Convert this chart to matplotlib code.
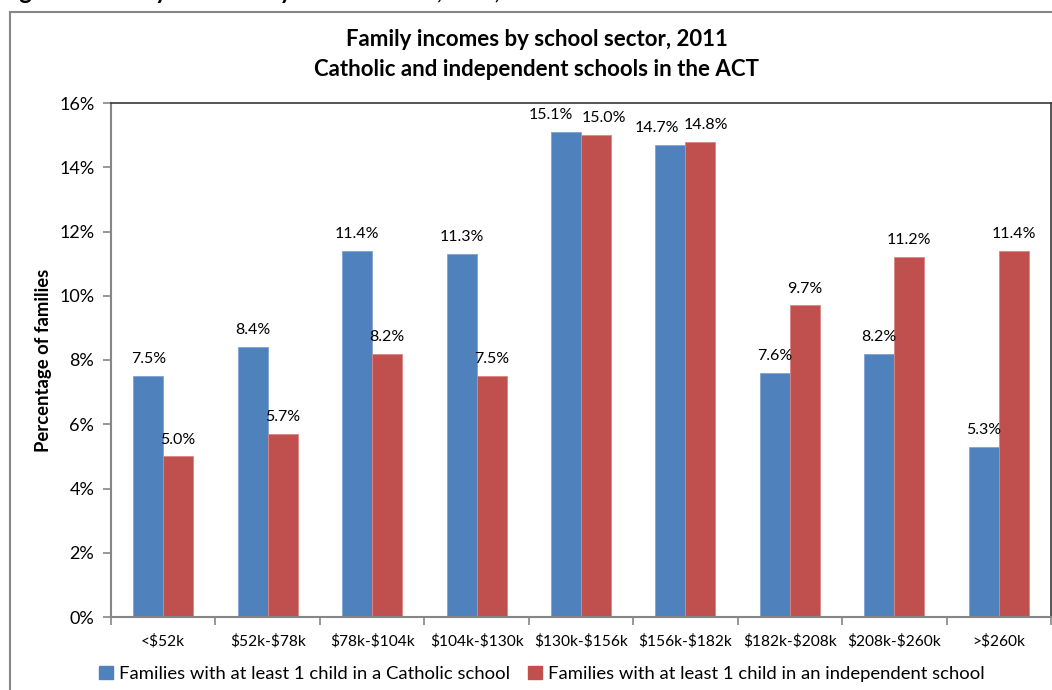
import numpy as np
import matplotlib

matplotlib.use('Agg')
import matplotlib.pyplot as plt
from matplotlib.lines import Line2D
from matplotlib.patches import Patch

plt.rcParams['font.family'] = ['Lato', 'DejaVu Sans']
plt.rcParams['text.parse_math'] = False

categories = ['<$52k', '$52k-$78k', '$78k-$104k', '$104k-$130k', '$130k-$156k',
              '$156k-$182k', '$182k-$208k', '$208k-$260k', '>$260k']
catholic = [7.5, 8.4, 11.4, 11.3, 15.1, 14.7, 7.6, 8.2, 5.3]
independent = [5.0, 5.7, 8.2, 7.5, 15.0, 14.8, 9.7, 11.2, 11.4]
series_names = ['Families with at least 1 child in a Catholic school',
                'Families with at least 1 child in an independent school']

blue = '#4F81BD'
red = '#C0504D'
grey = '#868686'

fig = plt.figure(figsize=(10.52, 6.90), dpi=100)
ax = fig.add_axes([111 / 1052, 73 / 690, 940 / 1052, 514 / 690])

x = np.arange(len(categories))
w = 0.287
ax.bar(x - w / 2, catholic, w, color=blue, edgecolor='#7FA3D0', linewidth=0.6)
ax.bar(x + w / 2, independent, w, color=red, edgecolor='#D88684', linewidth=0.6)

# small sideways nudges where Excel moved labels to avoid overlap
nudge1 = {4: -11, 5: -10}
nudge2 = {4: 6, 5: 4}
for i, v in enumerate(catholic):
    ax.annotate(f'{v:.1f}%', (x[i] - w / 2, v), xytext=(nudge1.get(i, 0), 7),
                textcoords='offset points', ha='center', va='bottom', fontsize=11.5)
for i, v in enumerate(independent):
    ax.annotate(f'{v:.1f}%', (x[i] + w / 2, v), xytext=(nudge2.get(i, 0), 7),
                textcoords='offset points', ha='center', va='bottom', fontsize=11.5)

ax.set_xlim(-0.5, len(categories) - 0.5)
ax.set_ylim(0, 16)
ax.set_yticks(np.arange(0, 17, 2))
ax.set_yticklabels([f'{t}%' for t in range(0, 17, 2)], fontsize=13)
ax.set_xticks(x)
ax.set_xticklabels(categories, fontsize=11.2)
ax.set_xticks(np.arange(len(categories) + 1) - 0.5, minor=True)
ax.tick_params(axis='x', which='major', length=0, pad=12)
ax.tick_params(axis='x', which='minor', length=6, color=grey, width=1.2)
ax.tick_params(axis='y', length=6, color=grey, width=1.2, pad=6)

for s in ['left', 'bottom']:
    ax.spines[s].set_color(grey)
    ax.spines[s].set_linewidth(1.5)
for s in ['top', 'right']:
    ax.spines[s].set_color('#3a3a3a')
    ax.spines[s].set_linewidth(1.2)

ax.set_ylabel('Percentage of families', fontsize=13.3, fontweight='bold', labelpad=5)

fig.text(0.51, 1 - 40 / 690, 'Family incomes by school sector, 2011', ha='center',
         va='center', fontsize=16, fontweight='bold')
fig.text(0.51, 1 - 70 / 690, 'Catholic and independent schools in the ACT', ha='center',
         va='center', fontsize=16, fontweight='bold')

# clipped heading of the page above the chart
fig.text(0.0, 1 + 1 / 690, 'Figure 4: Family incomes by school sector, ACT, 2011',
         ha='left', va='baseline', fontsize=17, fontweight='bold')

fig.add_artist(Line2D([10 / 1052, 1], [1 - 12 / 690, 1 - 12 / 690],
                      transform=fig.transFigure, color=grey, lw=1.5))
fig.add_artist(Line2D([10 / 1052, 10 / 1052], [0, 1 - 12 / 690],
                      transform=fig.transFigure, color=grey, lw=1.5))

handles = [Patch(color=blue), Patch(color=red)]
fig.legend(handles, series_names, loc='center', bbox_to_anchor=(0.515, 1 - 674 / 690),
           ncol=2, frameon=False, fontsize=13.3, handlelength=0.75, handleheight=0.75,
           handletextpad=0.3, columnspacing=1.0)

plt.savefig('out.png', dpi=100)
